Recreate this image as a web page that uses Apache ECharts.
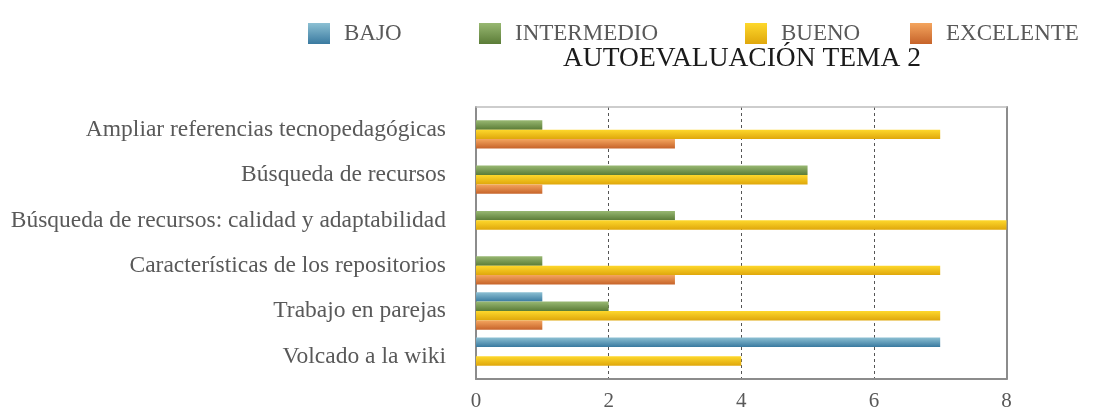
<!DOCTYPE html>
<html>
<head>
<meta charset="utf-8">
<script src="https://cdn.jsdelivr.net/npm/echarts@6/dist/echarts.min.js"></script>
<style>html,body{margin:0;padding:0;background:#fff}#c{width:1108px;height:412px}</style>
</head>
<body>
<div id="c"></div>
<script>
const categories = [
  'Ampliar referencias tecnopedagógicas',
  'Búsqueda de recursos',
  'Búsqueda de recursos: calidad y adaptabilidad',
  'Características de los repositorios',
  'Trabajo en parejas',
  'Volcado a la wiki'
];
const seriesNames = ['BAJO', 'INTERMEDIO', 'BUENO', 'EXCELENTE'];
const bajo = [0, 0, 0, 0, 1, 7];
const intermedio = [1, 5, 3, 1, 2, 0];
const bueno = [7, 5, 8, 7, 7, 4];
const excelente = [3, 1, 0, 3, 1, 0];
const xTicks = [0, 2, 4, 6, 8];

const FONT = 'Liberation Serif';
function grad(top, bottom) {
  return new echarts.graphic.LinearGradient(0, 0, 0, 1, [
    { offset: 0, color: top }, { offset: 1, color: bottom }
  ]);
}
const colors = [
  grad('#8cc0d3', '#3a7aa0'),
  grad('#98b872', '#5b7c37'),
  grad('#fed82c', '#dfa70b'),
  grad('#f4a55e', '#c6632a')
];
const values = [bajo, intermedio, bueno, excelente];
const legendLeft = [303, 474, 740, 905];

const chart = echarts.init(document.getElementById('c'));
chart.setOption({
  animation: false,
  title: {
    text: 'AUTOEVALUACIÓN TEMA 2',
    left: 737, textAlign: 'center', top: 40,
    textStyle: { fontFamily: FONT, fontSize: 27.5, fontWeight: 'normal', color: '#1a1a1a' }
  },
  legend: seriesNames.map((n, i) => ({
    data: [n], left: legendLeft[i], top: 17,
    itemWidth: 22, itemHeight: 21, itemGap: 0,
    icon: 'rect',
    textStyle: { fontFamily: FONT, fontSize: 23, color: '#595959', padding: [0, 0, 0, 9] }
  })),
  grid: { left: 476, right: 101.5, top: 107, bottom: 32.5 },
  xAxis: [{
    type: 'value', min: 0, max: 8, interval: 2,
    axisLine: { show: true, onZero: false, lineStyle: { color: '#8c8c8c', width: 2 } },
    axisTick: { show: false },
    axisLabel: { fontFamily: FONT, fontSize: 21, color: '#595959', margin: 12,
      formatter: v => xTicks.includes(v) ? String(v) : '' },
    splitLine: { show: true, showMinLine: false, showMaxLine: false,
      lineStyle: { color: '#555', type: [3, 3], width: 1 } }
  }, {
    type: 'value', min: 0, max: 8, interval: 2, position: 'top',
    axisLine: { show: true, onZero: false, lineStyle: { color: '#bdbdbd', width: 1.5 } },
    axisTick: { show: false }, axisLabel: { show: false }, splitLine: { show: false }
  }],
  yAxis: [{
    type: 'category', data: categories, inverse: true,
    axisLine: { show: true, onZero: false, lineStyle: { color: '#8c8c8c', width: 2 } },
    axisTick: { show: false },
    axisLabel: { fontFamily: FONT, fontSize: 23.5, color: '#595959', margin: 30 }
  }, {
    type: 'category', data: categories, inverse: true, position: 'right',
    axisLine: { show: true, onZero: false, lineStyle: { color: '#8c8c8c', width: 2 } },
    axisTick: { show: false }, axisLabel: { show: false }
  }],
  series: seriesNames.map((n, i) => ({
    name: n, type: 'bar', data: values[i],
    barGap: '0%', barCategoryGap: '17%',
    itemStyle: { color: colors[i] }
  }))
});
</script>
</body>
</html>
